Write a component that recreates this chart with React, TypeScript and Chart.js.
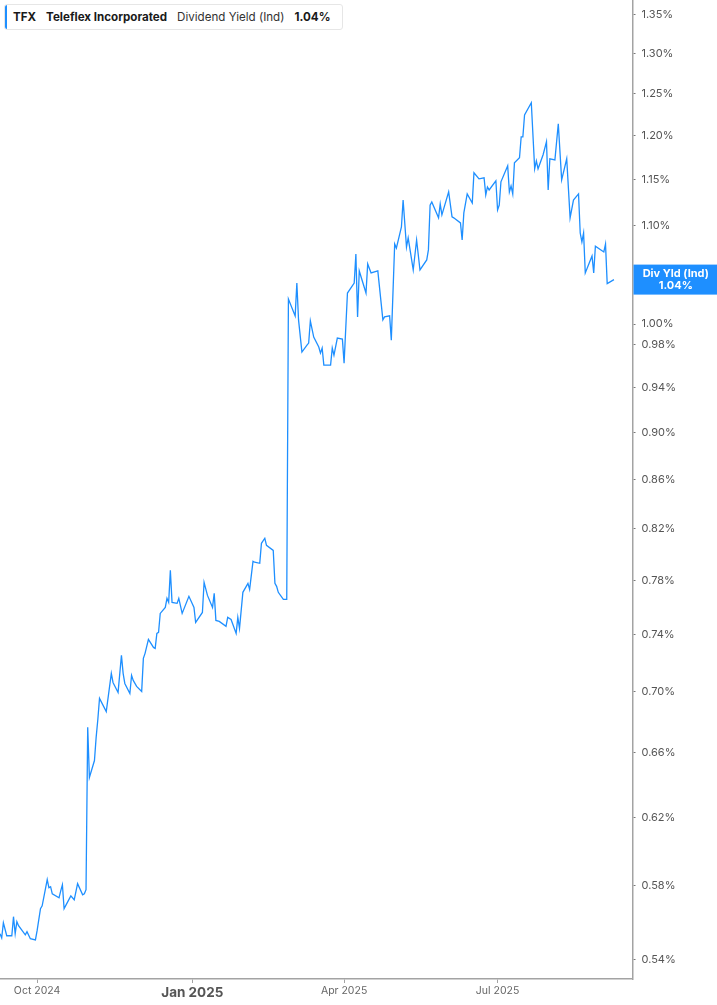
import { useEffect, useRef } from "react";
import { Chart, registerables } from "chart.js";
Chart.register(...registerables);

// trading days
const dates = [
  "2024-09-09", "2024-09-10", "2024-09-11", "2024-09-13", "2024-09-16", "2024-09-17", "2024-09-18", "2024-09-19", "2024-09-20", "2024-09-24", "2024-09-25", "2024-09-27", "2024-09-30",
  "2024-10-01", "2024-10-03", "2024-10-04", "2024-10-07", "2024-10-08", "2024-10-09", "2024-10-10", "2024-10-14", "2024-10-15", "2024-10-16", "2024-10-17", "2024-10-21", "2024-10-23", "2024-10-25", "2024-10-28", "2024-10-29", "2024-10-30", "2024-10-31",
  "2024-11-01", "2024-11-04", "2024-11-05", "2024-11-06", "2024-11-07", "2024-11-11", "2024-11-14", "2024-11-15", "2024-11-18", "2024-11-20", "2024-11-21", "2024-11-22", "2024-11-25", "2024-11-26", "2024-11-27", "2024-11-29",
  "2024-12-02", "2024-12-03", "2024-12-04", "2024-12-06", "2024-12-09", "2024-12-10", "2024-12-11", "2024-12-12", "2024-12-13", "2024-12-16", "2024-12-17", "2024-12-18", "2024-12-19", "2024-12-20", "2024-12-23", "2024-12-24", "2024-12-26", "2024-12-30",
  "2025-01-02", "2025-01-03", "2025-01-07", "2025-01-08", "2025-01-10", "2025-01-13", "2025-01-14", "2025-01-15", "2025-01-17", "2025-01-21", "2025-01-22", "2025-01-24", "2025-01-27", "2025-01-28", "2025-01-29", "2025-01-30", "2025-01-31",
  "2025-02-03", "2025-02-04", "2025-02-06", "2025-02-07", "2025-02-10", "2025-02-11", "2025-02-13", "2025-02-14", "2025-02-18", "2025-02-19", "2025-02-20", "2025-02-21", "2025-02-24", "2025-02-26", "2025-02-27",
  "2025-03-03", "2025-03-04", "2025-03-05", "2025-03-07", "2025-03-10", "2025-03-11", "2025-03-12", "2025-03-14", "2025-03-17", "2025-03-18", "2025-03-19", "2025-03-20", "2025-03-24", "2025-03-25", "2025-03-26", "2025-03-28", "2025-03-31",
  "2025-04-01", "2025-04-03", "2025-04-07", "2025-04-08", "2025-04-09", "2025-04-10", "2025-04-14", "2025-04-15", "2025-04-17", "2025-04-21", "2025-04-24", "2025-04-25", "2025-04-28", "2025-04-29",
  "2025-05-01", "2025-05-02", "2025-05-05", "2025-05-06", "2025-05-08", "2025-05-09", "2025-05-12", "2025-05-14", "2025-05-16", "2025-05-20", "2025-05-21", "2025-05-22", "2025-05-23", "2025-05-27", "2025-05-28", "2025-05-29",
  "2025-06-02", "2025-06-04", "2025-06-05", "2025-06-09", "2025-06-10", "2025-06-11", "2025-06-13", "2025-06-16", "2025-06-17", "2025-06-20", "2025-06-23", "2025-06-24", "2025-06-25", "2025-06-26", "2025-06-30",
  "2025-07-01", "2025-07-02", "2025-07-03", "2025-07-07", "2025-07-08", "2025-07-09", "2025-07-10", "2025-07-11", "2025-07-14", "2025-07-15", "2025-07-16", "2025-07-17", "2025-07-21", "2025-07-23", "2025-07-24", "2025-07-25", "2025-07-28", "2025-07-30", "2025-07-31",
  "2025-08-01", "2025-08-04", "2025-08-06", "2025-08-08", "2025-08-11", "2025-08-13", "2025-08-15", "2025-08-18", "2025-08-19", "2025-08-20", "2025-08-21", "2025-08-22", "2025-08-26", "2025-08-27", "2025-08-28",
  "2025-09-02", "2025-09-03", "2025-09-04", "2025-09-08",
];

// dividend yield (%), same order as dates
const yields = [
  0.5538, 0.5516, 0.5597, 0.5527, 0.5527, 0.5630, 0.5538, 0.5603, 0.5581, 0.5532, 0.5549, 0.5511, 0.5505,
  0.5554, 0.5674, 0.5690, 0.5836, 0.5790, 0.5796, 0.5756, 0.5734, 0.5773, 0.5807, 0.5674, 0.5745, 0.5723, 0.5813, 0.5751, 0.5756, 0.5779, 0.6764,
  0.6443, 0.6550, 0.6699, 0.6816, 0.6957, 0.6868, 0.7128, 0.7065, 0.6997, 0.7253, 0.7128, 0.7058, 0.6990, 0.7114, 0.7079, 0.7038,
  0.7004, 0.7232, 0.7267, 0.7366, 0.7309, 0.7302, 0.7409, 0.7416, 0.7554, 0.7598, 0.7665, 0.7635, 0.7876, 0.7635, 0.7628, 0.7665, 0.7554, 0.7680,
  0.7598, 0.7488, 0.7561, 0.7785, 0.7687, 0.7598, 0.7702, 0.7503, 0.7496, 0.7460, 0.7525, 0.7510, 0.7409, 0.7525, 0.7445, 0.7576, 0.7710,
  0.7777, 0.7732, 0.7945, 0.7938, 0.7930, 0.8085, 0.8125, 0.8069, 0.8030, 0.7777, 0.7755, 0.7710, 0.7657, 0.7657, 1.0245,
  1.0079, 1.0405, 1.0040, 0.9732, 0.9798, 0.9817, 1.0030, 0.9874, 0.9779, 0.9722, 0.9770, 0.9609, 0.9609, 0.9770, 0.9703, 0.9865, 0.9855,
  0.9628, 1.0305, 1.0405, 1.0703, 1.0069, 1.0528, 1.0305, 1.0600, 1.0508, 1.0528, 1.0040, 1.0069, 1.0079, 0.9845,
  1.0806, 1.0764, 1.0987, 1.1277, 1.0774, 1.0870, 1.0538, 1.0849, 1.0538, 1.0641, 1.0745, 1.1222, 1.1255, 1.1084, 1.1233, 1.1116,
  1.1366, 1.1094, 1.1084, 1.1030, 1.0849, 1.1137, 1.1344, 1.1244, 1.1579, 1.1511, 1.1523, 1.1333, 1.1421, 1.1388, 1.1489,
  1.1169, 1.1222, 1.1478, 1.1657, 1.1366, 1.1432, 1.1344, 1.1691, 1.1748, 1.1990, 1.1990, 1.2248, 1.2392, 1.1624, 1.1714, 1.1624, 1.1783, 1.1932, 1.1388,
  1.1737, 1.1725, 1.2142, 1.1500, 1.1737, 1.1084, 1.1277, 1.1344, 1.0922, 1.0828, 1.0922, 1.0508, 1.0682, 1.0508, 1.0784,
  1.0723, 1.0805, 1.0400, 1.0440,
];

const yTicks = [0.54, 0.58, 0.62, 0.66, 0.7, 0.74, 0.78, 0.82, 0.86, 0.9, 0.94, 0.98, 1.0, 1.1, 1.15, 1.2, 1.25, 1.3, 1.35];
const xTickDates = ["2024-10-01", "2025-01-01", "2025-04-01", "2025-07-01"];
const xTickLabels = ["Oct 2024", "Jan 2025", "Apr 2025", "Jul 2025"];

const ticker = "TFX";
const company = "Teleflex Incorporated";
const metric = "Dividend Yield (Ind)";
const tagTitle = "Div Yld (Ind)";

const BLUE = "#1e8fff";
const start = Date.parse("2024-09-09");
const dayOf = (d: string) => (Date.parse(d) - start) / 86400000;
const last = yields[yields.length - 1];

// blue value box on the right axis
const lastTag = {
  id: "lastTag",
  afterDraw(chart) {
    const { ctx, chartArea, scales } = chart;
    const y = scales.y.getPixelForValue(last);
    ctx.save();
    ctx.fillStyle = BLUE;
    ctx.fillRect(chartArea.right + 1, y - 15, chart.width - chartArea.right - 1, 30);
    ctx.fillStyle = "#fff";
    ctx.font = "bold 11px Inter";
    ctx.textAlign = "center";
    ctx.textBaseline = "middle";
    const cx = (chartArea.right + chart.width) / 2 + 1;
    ctx.fillText(tagTitle, cx, y - 6);
    ctx.fillText(last.toFixed(2) + "%", cx, y + 6);
    ctx.restore();
  },
};

export default function App() {
  const chartRef = useRef(null);

  useEffect(() => {
    const chart = new Chart(chartRef.current, {
      type: "line",
      data: {
        datasets: [
          {
            data: dates.map((d, i) => ({ x: dayOf(d), y: yields[i] })),
            borderColor: BLUE,
            borderWidth: 1.3,
            pointRadius: 0,
            tension: 0,
            fill: false,
          },
        ],
      },
      options: {
        animation: false,
        responsive: false,
        devicePixelRatio: 1,
        layout: { padding: 0 },
        plugins: { legend: { display: false }, tooltip: { enabled: false } },
        scales: {
          x: {
            type: "linear",
            min: 0,
            max: 375,
            afterBuildTicks: (s) => {
              s.ticks = xTickDates.map((d) => ({ value: dayOf(d) }));
            },
            afterFit: (s) => {
              s.height = 26;
              s.paddingLeft = 0;
              s.paddingRight = 0;
            },
            border: { color: "#a3a3a3", width: 1.5 },
            grid: { drawOnChartArea: false, tickLength: 4, color: "#a3a3a3", tickWidth: 1 },
            ticks: {
              autoSkip: false,
              maxRotation: 0,
              padding: 2,
              color: (c) => (c.index === 1 ? "#555" : "#666"),
              font: (c) =>
                c.index === 1
                  ? { family: "Inter", size: 13.5, weight: "bold" }
                  : { family: "Inter", size: 10.5 },
              callback: (v, i) => xTickLabels[i],
            },
          },
          y: {
            type: "logarithmic",
            position: "right",
            min: 0.5317,
            max: 1.369,
            afterBuildTicks: (s) => {
              s.ticks = yTicks.map((v) => ({ value: v }));
            },
            afterFit: (s) => {
              s.width = 84.5;
              s.paddingTop = 0;
              s.paddingBottom = 0;
            },
            border: { color: "#a3a3a3", width: 1.5 },
            grid: { drawOnChartArea: false, tickLength: 3, color: "#777", tickWidth: 1 },
            ticks: {
              autoSkip: false,
              padding: 6,
              color: "#555",
              font: { family: "Inter", size: 11 },
              callback: (v) => Number(v).toFixed(2) + "%",
            },
          },
        },
      },
      plugins: [lastTag],
    });
    return () => chart.destroy();
  }, []);

  return (
    <div style={{ position: "absolute", left: 0, top: 0, width: 717, height: 1005, background: "#fff" }}>
      <canvas ref={chartRef} width={717} height={1005} />
      <div
        style={{
          position: "absolute",
          left: 4,
          top: 4,
          width: 339,
          height: 26,
          boxSizing: "border-box",
          border: "1px solid #e6e6e6",
          borderRadius: 3,
          background: "#fff",
          display: "flex",
          alignItems: "center",
          gap: 10,
          paddingLeft: 8,
          fontFamily: "Inter",
          fontSize: 11.6,
          color: "#1a1a1a",
          whiteSpace: "nowrap",
          overflow: "hidden",
        }}
      >
        <div style={{ position: "absolute", left: -1, top: 0, bottom: 0, width: 3, background: BLUE, borderRadius: "3px 0 0 3px" }} />
        <span style={{ fontWeight: 700 }}>{ticker}</span>
        <span style={{ fontWeight: 700 }}>{company}</span>
        <span style={{ color: "#333" }}>{metric}</span>
        <span style={{ fontWeight: 700 }}>{last.toFixed(2)}%</span>
      </div>
    </div>
  );
}
